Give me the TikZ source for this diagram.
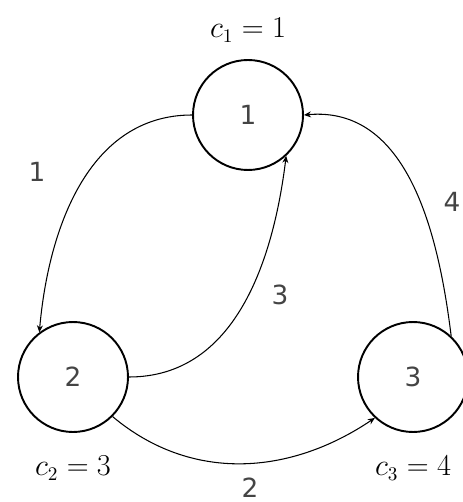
\documentclass[tikz,border=0pt]{standalone}
\usepackage{amsmath,amssymb}
\usepackage{fontspec}
\setmainfont{DejaVu Sans}
\usepackage{xcolor}
\usetikzlibrary{arrows.meta,positioning}
\definecolor{nodegray}{HTML}{444444}

\begin{document}
\begin{tikzpicture}[
  x=0.02cm,y=-0.02cm,
  vertex/.style={draw,circle,line width=1.1pt,minimum size=2.2cm,inner sep=0pt,font=\fontsize{15}{18}\selectfont,text=nodegray},
  cost/.style={font=\fontsize{16}{19}\selectfont,inner sep=1pt},
  weight/.style={font=\fontsize{15}{18}\selectfont,text=nodegray,inner sep=0pt},
  arrow/.style={-{Stealth[length=1.4mm,width=1.2mm]},line width=0.6pt}
]
\useasboundingbox (0,0) rectangle (462,502);
\node[vertex] (n1) at (248,115) {1};
\node[vertex] (n2) at (73,377) {2};
\node[vertex] (n3) at (413,377) {3};
\node[cost] (c1) at (248,30) {$c_1 = 1$};
\node[cost] (c2) at (73,468) {$c_2 = 3$};
\node[cost] (c3) at (413,468) {$c_3 = 4$};
\node[weight] (w1) at (37,172) {1};
\node[weight] (w2) at (250,488) {2};
\node[weight] (w3) at (280,295) {3};
\node[weight] (w4) at (452,202) {4};
\draw[arrow] (n1.west) to[out=180,in=85] (n2.127);
\draw[arrow] (n2.east) to[out=0,in=-97] (n1.-47);
\draw[arrow] (n2.-45) to[out=-40,in=-146] (n3.-133);
\draw[arrow] (n3.47) to[out=97,in=5] (n1.east);
\end{tikzpicture}
\end{document}
